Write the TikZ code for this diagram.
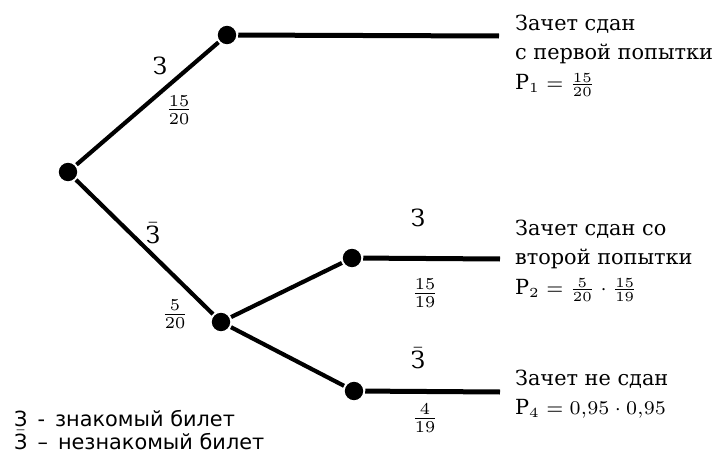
\documentclass[tikz,border=0pt]{standalone}
\usepackage{fontspec}
\usepackage{amsmath}
\setmainfont{DejaVu Serif}
\newfontfamily\legendfont{DejaVu Sans}
\usetikzlibrary{calc}

\newcommand{\Zbar}{$\bar{\text{З}}$}

\begin{document}
\begin{tikzpicture}[x=0.36pt,y=-0.36pt,line width=1.5pt,
  vertex/.style={circle,fill,inner sep=0pt,minimum size=6.6pt},
  outcome/.style={anchor=north west,align=left,inner sep=0pt,font=\fontsize{7.5}{10.4}\selectfont},
  lbl/.style={inner sep=0pt,font=\fontsize{8.5}{10}\selectfont}]
  \useasboundingbox (0,0) rectangle (723,454);
  % vertices of the tree
  \node[vertex] (R) at (68,172) {};
  \node[vertex] (A) at (227,35) {};
  \node[vertex] (B) at (221,322) {};
  \node[vertex] (B1) at (352,258) {};
  \node[vertex] (B2) at (354,391) {};
  \coordinate (Aend) at (499,36);
  \coordinate (B1end) at (500,259);
  \coordinate (B2end) at (500,392);
  \draw (R)--(A);
  \draw (R)--(B);
  \draw (B)--(B1);
  \draw (B)--(B2);
  \draw[line width=1.8pt] (A)--(Aend);
  \draw[line width=1.8pt] (B1)--(B1end);
  \draw[line width=1.8pt] (B2)--(B2end);
  % branch labels
  \node[lbl] (lA) at (160,66) {З};
  \node[lbl] (pA) at (179,110) {$\frac{15}{20}$};
  \node[lbl] (lB) at (153,233) {\Zbar};
  \node[lbl] (pB) at (175,314) {$\frac{5}{20}$};
  \node[lbl] (lB1) at (418,218) {З};
  \node[lbl] (pB1) at (425,293) {$\frac{15}{19}$};
  \node[lbl] (lB2) at (418,358) {\Zbar};
  \node[lbl] (pB2) at (425,418) {$\frac{4}{19}$};
  % outcomes
  \node[outcome] (oA) at (513,13) {Зачет сдан\\с первой попытки\\[0.5pt]$\mathrm{P}_1=\frac{15}{20}$};
  \node[outcome] (oB1) at (513,218) {Зачет сдан со\\второй попытки\\[0.5pt]$\mathrm{P}_2=\frac{5}{20}\cdot\frac{15}{19}$};
  \node[outcome] (oB2) at (513,368) {Зачет не сдан\\$\mathrm{P}_4=0{,}95\cdot 0{,}95$};
  % legend
  \node[anchor=west,align=left,inner sep=0pt,font=\legendfont\fontsize{7.5}{8}\selectfont] (key) at (12,430)
    {З\, -\, знакомый билет\\\Zbar\, –\, незнакомый билет};
\end{tikzpicture}
\end{document}
